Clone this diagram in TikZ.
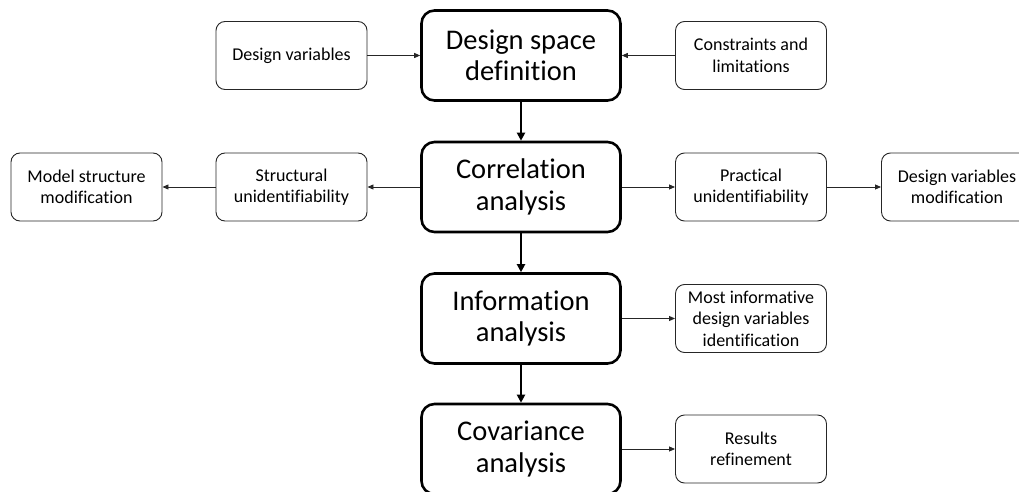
\documentclass[tikz,border=0pt]{standalone}
\usepackage{fontspec}
\setmainfont[Ligatures=NoCommon]{Carlito}
\usetikzlibrary{arrows.meta}
\begin{document}
\begin{tikzpicture}[x=1pt,y=-1pt,
  mainbox/.style={draw=black,line width=2.6pt,rounded corners=13pt,minimum width=199pt,minimum height=90pt,align=center,inner sep=0pt,
    font=\fontsize{28.5}{31.5}\selectfont},
  subbox/.style={draw=black!85,line width=0.9pt,rounded corners=9pt,minimum width=151pt,minimum height=68pt,align=center,inner sep=0pt,
    font=\fontsize{18}{21.5}\selectfont},
  thinarrow/.style={draw=black!85,line width=0.9pt,-{Triangle[length=6pt,width=5pt]}},
  thickarrow/.style={draw=black,line width=2.4pt,-{Triangle[length=8pt,width=8pt]}}]
\useasboundingbox (0,0) rectangle (1019,492);
\begin{scope}
\clip (0,0) rectangle (1019,492);
\node[mainbox] (dsd) at (521,55.5) {Design space\\definition};
\node[mainbox] (corr) at (521,187) {Correlation\\analysis};
\node[mainbox] (info) at (521,318.5) {Information\\analysis};
\node[mainbox] (cov) at (521,449) {Covariance\\analysis};
\node[subbox] (dv) at (291.5,55.5) {Design variables};
\node[subbox] (cons) at (751,55.5) {Constraints and\\limitations};
\node[subbox] (msm) at (86.5,187) {Model structure\\modification};
\node[subbox] (su) at (291.5,187) {Structural\\unidentifiability};
\node[subbox] (pu) at (751,187) {Practical\\unidentifiability};
\node[subbox] (dvm) at (957,187) {Design variables\\modification};
\node[subbox] (most) at (751,318.5) {Most informative\\design variables\\identification};
\node[subbox] (res) at (751,449) {Results\\refinement};
\end{scope}
\draw[thinarrow] (dv.east) -- (dsd.west);
\draw[thinarrow] (cons.west) -- (dsd.east);
\draw[thinarrow] (corr.west) -- (su.east);
\draw[thinarrow] (su.west) -- (msm.east);
\draw[thinarrow] (corr.east) -- (pu.west);
\draw[thinarrow] (pu.east) -- (dvm.west);
\draw[thinarrow] (info.east) -- (most.west);
\draw[thinarrow] (cov.east) -- (res.west);
\draw[thickarrow] (dsd.south) -- (corr.north);
\draw[thickarrow] (corr.south) -- (info.north);
\draw[thickarrow] (info.south) -- (cov.north);
\end{tikzpicture}
\end{document}
